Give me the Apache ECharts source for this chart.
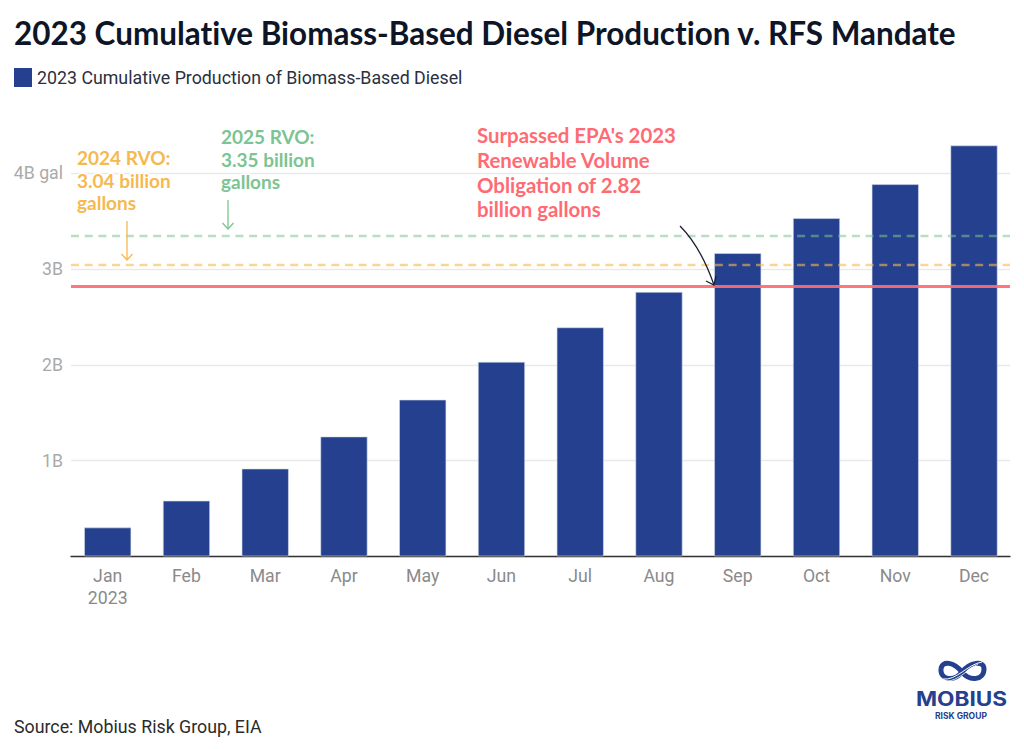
<!DOCTYPE html>
<html>
<head>
<meta charset="utf-8">
<title>2023 Cumulative Biomass-Based Diesel Production v. RFS Mandate</title>
<script src="https://cdn.jsdelivr.net/npm/echarts@6/dist/echarts.min.js"></script>
<style>
html, body { margin: 0; padding: 0; background: #fff; }
#chart { width: 1024px; height: 749px; }
#chart text { font-variant-ligatures: none; }
</style>
</head>
<body>
<div id="chart"></div>
<script>
var months = ["Jan\n2023", "Feb", "Mar", "Apr", "May", "Jun", "Jul", "Aug", "Sep", "Oct", "Nov", "Dec"];
var production = [0.30, 0.58, 0.915, 1.25, 1.635, 2.03, 2.39, 2.76, 3.165, 3.53, 3.885, 4.29];
var seriesName = "2023 Cumulative Production of Biomass-Based Diesel";
var yTicks = { 1: "1B", 2: "2B", 3: "3B", 4: "4B gal" };
var rvo2025 = 3.35;
var rvo2024 = 3.04;
var rvo2023 = 2.82;

var BLUE = "#24408e", GREEN = "#7cc492", ORANGE = "#f6b94f", RED = "#ff6b72";

var chart = echarts.init(document.getElementById("chart"), null, { renderer: "svg" });

// little note text with a white halo, it cuts the grid lines like the original
function note(x, y, text, color, size, lineHeight) {
    return {
        type: "text", z: 100, x: x, y: y,
        style: {
            text: text, fill: color, stroke: "#fff", lineWidth: 3,
            font: "bold " + size + "px Lato", lineHeight: lineHeight
        }
    };
}

function straightArrow(x, y1, y2, color) {
    return {
        type: "group", z: 101,
        children: [
            { type: "line", z: 101, shape: { x1: x, y1: y1, x2: x, y2: y2 }, style: { stroke: color, lineWidth: 1.3 } },
            { type: "polyline", z: 101, shape: { points: [[x - 5.5, y2 - 6], [x, y2], [x + 5.5, y2 - 6]] }, style: { stroke: color, lineWidth: 1.3, fill: null } }
        ]
    };
}

function curve(p, color, width) {
    return {
        type: "bezierCurve", z: 101,
        shape: { x1: p[0], y1: p[1], cpx1: p[2], cpy1: p[3], cpx2: p[4], cpy2: p[5], x2: p[6], y2: p[7] },
        style: { stroke: color, lineWidth: width, fill: null }
    };
}

chart.setOption({
    backgroundColor: "#fff",
    animation: false,
    title: {
        text: "2023 Cumulative Biomass-Based Diesel Production v. RFS Mandate",
        left: 14, top: 17, padding: 0,
        textStyle: { fontFamily: "Lato", fontWeight: "bold", fontSize: 31.45, color: "#0d1526" }
    },
    legend: {
        left: 14, top: 68, padding: 0,
        itemWidth: 18, itemHeight: 19,
        icon: "rect",
        selectedMode: false,
        data: [seriesName],
        itemStyle: { borderWidth: 0 },
        textStyle: { fontFamily: "Roboto", fontSize: 17.8, color: "#2b3040" }
    },
    grid: { left: 71, top: 125.4, width: 939, height: 430.9 },
    xAxis: {
        type: "value",
        min: -0.466,
        max: 11.457,
        splitLine: { show: false },
        axisTick: { show: false },
        axisLine: { show: true, onZero: false, lineStyle: { color: "#333", width: 1.3 } },
        axisLabel: {
            customValues: months.map(function (m, i) { return i; }),
            formatter: function (v) { return months[v]; },
            fontFamily: "Roboto", fontSize: 17.7, color: "#8a8a8a",
            lineHeight: 22, margin: 9
        }
    },
    yAxis: {
        type: "value",
        min: 0,
        max: 4.5,
        interval: 1,
        axisLine: { show: false },
        axisTick: { show: false },
        splitLine: { showMaxLine: false, lineStyle: { color: "#e9e9e9", width: 1.3 } },
        axisLabel: {
            formatter: function (v) { return yTicks[v] || ""; },
            fontFamily: "Roboto", fontSize: 17.7, color: "#aaaaaa", margin: 8,
            padding: [4, 0, 0, 0]
        }
    },
    series: [{
        name: seriesName,
        type: "bar",
        barWidth: 47,
        data: production.map(function (v, i) { return [i, v]; }),
        itemStyle: { color: BLUE, borderColor: "#d5dbea", borderWidth: 0.6 },
        markLine: {
            silent: true,
            symbol: "none",
            label: { show: false },
            data: [
                { yAxis: rvo2025, lineStyle: { color: GREEN, type: [8, 5.7], width: 2.4, opacity: 0.55 } },
                { yAxis: rvo2024, lineStyle: { color: ORANGE, type: [8, 5.7], width: 2.4, opacity: 0.6 } },
                { yAxis: rvo2023, lineStyle: { color: RED, type: "solid", width: 3, opacity: 0.92 } }
            ]
        }
    }],
    graphic: [
        note(77, 146, "2024 RVO:\n3.04 billion\ngallons", ORANGE, 19, 22.7),
        note(221, 125, "2025 RVO:\n3.35 billion\ngallons", GREEN, 19, 22.7),
        note(477, 123, "Surpassed EPA's 2023\nRenewable Volume\nObligation of 2.82\nbillion gallons", RED, 20.4, 24.6),
        straightArrow(127, 221, 260, ORANGE),
        straightArrow(228, 200, 229, GREEN),
        // curved arrow down to the Sep bar
        curve([680, 226, 694, 240, 706, 262, 714, 285], "#1b2030", 1.3),
        { type: "polyline", z: 101, shape: { points: [[706, 281], [714, 285], [716, 276]] }, style: { stroke: "#1b2030", lineWidth: 1.3, fill: null } },
        { type: "text", z: 100, x: 14, y: 717, style: { text: "Source: Mobius Risk Group, EIA", font: "17.8px Roboto", fill: "#2b2b2b" } },
        // Mobius logo, rough hand drawn knot
        curve([962, 672, 954, 662, 942, 660, 941, 669], BLUE, 5),
        curve([941, 669, 940, 680, 954, 682, 962, 672], BLUE, 5),
        curve([962, 672, 970, 662, 984, 660, 984, 669], BLUE, 5),
        curve([984, 669, 984, 680, 970, 682, 962, 672], BLUE, 5),
        curve([943, 679, 956, 681, 968, 664, 982, 662], "#fff", 1),
        curve([947, 681, 958, 681, 968, 669, 978, 664], "#fff", 0.8),
        { type: "text", z: 100, x: 916, y: 689, scaleX: 1.16, style: { text: "MOBIUS", font: "bold 19.5px Inter", fill: BLUE } },
        { type: "text", z: 100, x: 935, y: 711, style: { text: "RISK GROUP", font: "bold 8.5px Inter", fill: BLUE } }
    ]
});
</script>
</body>
</html>
